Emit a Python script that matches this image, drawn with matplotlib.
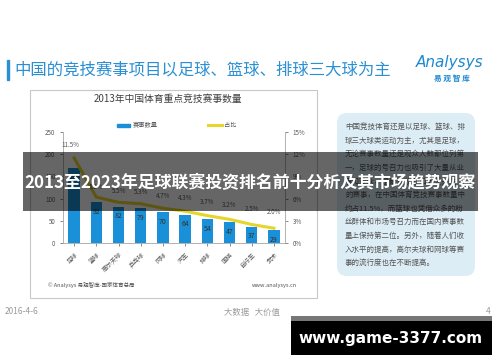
import matplotlib
matplotlib.use('Agg')
import matplotlib.pyplot as plt
import matplotlib.patches as mpatches
from matplotlib.lines import Line2D
from matplotlib.ticker import FuncFormatter
import numpy as np

plt.rcParams['font.family'] = ['Noto Sans CJK SC', 'DejaVu Sans']

# chart data
sports = ['足球', '篮球', '高尔夫球', '乒乓球', '网球', '汽车', '排球', '围棋', '自行车', '武术']
counts = [170, 92, 82, 79, 70, 64, 54, 47, 37, 29]
shares = [11.5, 6.2, 5.5, 5.3, 4.7, 4.3, 3.7, 3.2, 2.5, 2.0]

page_title = '中国的竞技赛事项目以足球、篮球、排球三大球为主'
chart_title = '2013年中国体育重点竞技赛事数量'
overlay_title = '2013至2023年足球联赛投资排名前十分析及其市场趋势观察'
note_lines = [
    '中国竞技体育还是以足球、篮球、排',
    '球三大球类运动为主，尤其是足球，',
    '无论赛事数量还是观众人数都位列第',
    '一，足球的号召力也吸引了大量从业',
    '者和观众，是最受欢迎和最受关注',
    '的赛事，在中国体育竞技赛事数量中',
    '约占11.5%，而篮球也凭借众多的粉',
    '丝群体和市场号召力而在国内赛事数',
    '量上保持第二位。另外，随着人们收',
    '入水平的提高，高尔夫球和网球等赛',
    '事的流行度也在不断提高。',
]

BLUE = '#1a90d8'
YELLOW = '#e6d52c'
GREY = '#595959'
W, H = 500, 362

fig = plt.figure(figsize=(5, 3.62), dpi=100, facecolor='white')

# page layer in pixel coordinates
page = fig.add_axes([0, 0, 1, 1], zorder=0)
page.set_xlim(0, W)
page.set_ylim(H, 0)
page.axis('off')

page.add_patch(mpatches.Rectangle((7, 60), 2.2, 20, color='#2b8fd3'))
page.text(14, 70, page_title, fontsize=11.8, color='#2b8fd3', va='center', ha='left')
page.text(450, 63, 'Analysys', fontsize=11, color='#1e88d0', style='italic',
          ha='center', va='center', family=['DejaVu Sans'])
page.text(452, 78, '易 观 智 库', fontsize=5.5, color='#1e88d0', fontweight='bold',
          ha='center', va='center')

# chart frame
page.add_patch(mpatches.Rectangle((30, 90), 287, 208, facecolor='white',
                                  edgecolor='#c8c8c8', linewidth=0.8))
page.text(168, 99, chart_title, fontsize=7, color='#404040', ha='center', va='center')
page.add_patch(mpatches.Rectangle((117, 123.5), 13, 3.5, color=BLUE))
page.text(133, 125, '赛事数量', fontsize=4.5, color=GREY, va='center')
page.add_line(Line2D([208, 222], [125, 125], color=YELLOW, linewidth=2.2))
page.text(224, 125, '占比', fontsize=4.5, color=GREY, va='center')
page.text(48, 285, '© Analysys 易观智库-国家体育总局', fontsize=4, color='#555555', va='center')
page.text(297, 285, 'www.analysys.cn', fontsize=4, color='#555555', va='center', ha='right')

# note box
page.add_patch(mpatches.FancyBboxPatch((337, 113), 138, 163,
                                       boxstyle='round,pad=0,rounding_size=10',
                                       facecolor='#dcedf5', edgecolor='none'))
for i, line in enumerate(note_lines):
    page.text(345, 127 + i * 13.6, line, fontsize=5.4, color='#555555', va='center')

# footer
page.text(5, 312, '2016-4-6', fontsize=6, color='#9a9a9a', va='center')
page.text(252, 312, '大数据   大价值', fontsize=6, color='#9a9a9a', va='center', ha='center')
page.text(488, 312, '4', fontsize=6, color='#9a9a9a', va='center', ha='center')

# bar + line chart
ax = fig.add_axes([63 / W, 1 - 243 / H, 222 / W, 111 / H], zorder=2)
ax.patch.set_alpha(0)
x = np.arange(len(sports))
bars = ax.bar(x, counts, width=0.52, color=BLUE, zorder=2)
for xi, v in zip(x, counts):
    ax.annotate(str(v), (xi, v), xytext=(0, -7), textcoords='offset points',
                ha='center', va='center', fontsize=5, color='#333333')
ax.set_xlim(-0.5, len(sports) - 0.5)
ax.set_ylim(0, 250)
ax.set_yticks(range(0, 251, 50))
ax.set_xticks(x)
ax.set_xticklabels(sports, rotation=45, ha='right', rotation_mode='anchor')
ax.tick_params(axis='both', labelsize=4.5, colors=GREY, length=2, width=0.5)
for s in ['top', 'right']:
    ax.spines[s].set_visible(False)
for s in ['left', 'bottom']:
    ax.spines[s].set_color('#a6a6a6')
    ax.spines[s].set_linewidth(0.6)

ax2 = ax.twinx()
ax2.plot(x, shares, color=YELLOW, linewidth=2.2, zorder=3)
ax2.set_ylim(0, 15)
ax2.set_yticks(range(0, 16, 3))
ax2.yaxis.set_major_formatter(FuncFormatter(lambda v, p: '%d%%' % v))
ax2.tick_params(axis='y', labelsize=4.5, colors=GREY, length=2, width=0.5)
for s in ['top', 'left', 'bottom']:
    ax2.spines[s].set_visible(False)
ax2.spines['right'].set_color('#a6a6a6')
ax2.spines['right'].set_linewidth(0.6)
for i, (xi, v) in enumerate(zip(x, shares)):
    dx = -3 if i == 0 else 0
    dy = 9 if i == 0 else 7 + i * 0.5
    ax2.annotate('%.1f%%' % v, (xi, v), xytext=(dx, dy), textcoords='offset points',
                 ha='center', va='center', fontsize=4.5, color=GREY)

# overlay layer
top = fig.add_axes([0, 0, 1, 1], zorder=10)
top.set_xlim(0, W)
top.set_ylim(H, 0)
top.axis('off')
top.add_patch(mpatches.Rectangle((23, 152), 455, 59, facecolor='black', alpha=0.6,
                                 edgecolor='none'))
top.text(250, 183, overlay_title, fontsize=12.2, color='white', fontweight='bold',
         ha='center', va='center')
top.add_patch(mpatches.Rectangle((291, 316), 201, 39, facecolor='black', edgecolor='none'))
top.add_patch(mpatches.Rectangle((291, 316), 201, 5, facecolor='#777777', edgecolor='none'))
top.text(391, 338, 'www.game-3377.com', fontsize=11, color='white', fontweight='bold',
         ha='center', va='center', family=['DejaVu Sans'])

fig.savefig('out.png', dpi=100, facecolor='white')
